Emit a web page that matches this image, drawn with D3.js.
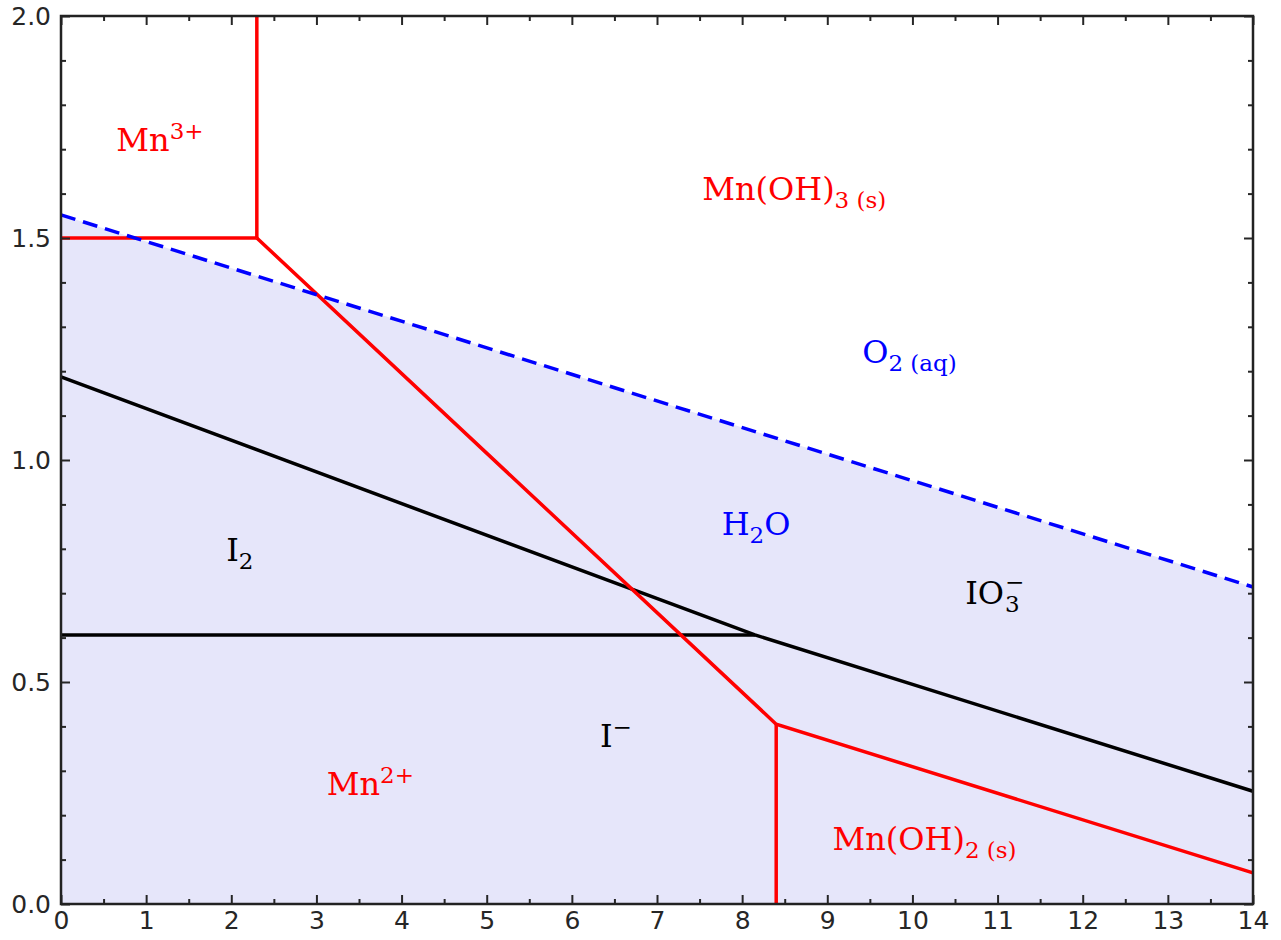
<!DOCTYPE html>
<html>
<head>
<meta charset="utf-8">
<script src="https://cdn.jsdelivr.net/npm/d3@7"></script>
<style>
  html, body { margin: 0; padding: 0; background: #fff; }
  svg { display: block; }
  .tick text { font-family: "DejaVu Sans", sans-serif; font-size: 25px; fill: #262626; }
  .lbl { font-family: "DejaVu Serif", serif; }
</style>
</head>
<body>
<svg id="chart" width="1281" height="940"></svg>
<script>
// ---- data (pH on x, E in volts on y) ----
const xMajorTicks = [0,1,2,3,4,5,6,7,8,9,10,11,12,13,14];
const xMinorTicks = [0.5,1.5,2.5,3.5,4.5,5.5,6.5,7.5,8.5,9.5,10.5,11.5,12.5,13.5];
const yMajorTicks = [0.0,0.5,1.0,1.5,2.0];
const yMinorTicks = [0.1,0.2,0.3,0.4,0.6,0.7,0.8,0.9,1.1,1.2,1.3,1.4,1.6,1.7,1.8,1.9];

// water stability (O2/H2O) upper boundary
const waterLine = [[0,1.552],[14,0.714]];
// iodine boundaries
const io3Line = [[0,1.187],[8.15,0.606],[14,0.254]];
const i2Line = [[0,0.606],[8.15,0.606]];
// manganese boundaries
const mn3Horiz = [[0,1.5],[2.3,1.5]];
const mn3Vert = [[2.3,2.0],[2.3,1.5]];
const mnMain = [[2.3,1.5],[8.4,0.405],[14,0.07]];
const mn2Vert = [[8.4,0.405],[8.4,0.0]];

// labels: parts: [text, kind] kind: n normal, sub, sup
const labels = [
  {x:0.65, y:1.697, color:"red",   parts:[["Mn","n"],["3+","sup"]]},
  {x:7.53, y:1.585, color:"red",   parts:[["Mn(OH)","n"],["3 (s)","sub"]]},
  {x:9.41, y:1.218, color:"blue",  parts:[["O","n"],["2 (aq)","sub"]]},
  {x:7.76, y:0.831, color:"blue",  parts:[["H","n"],["2","sub"],["O","n"]]},
  {x:1.94, y:0.772, color:"black", parts:[["I","n"],["2","sub"]]},
  {x:6.33, y:0.354, color:"black", parts:[["I","n"],["\u2212","sup"]]},
  {x:3.12, y:0.245, color:"red",   parts:[["Mn","n"],["2+","sup"]]},
  {x:9.06, y:0.122, color:"red",   parts:[["Mn(OH)","n"],["2 (s)","sub"]]}
];
const io3Label = {x:10.62, y:0.676, color:"black"};

// ---- layout ----
const svg = d3.select("#chart");
const margin = {left:61, top:16, right:28, bottom:36};
const W = 1281, H = 940;
const x = d3.scaleLinear().domain([0,14]).range([margin.left, W - margin.right]);
const y = d3.scaleLinear().domain([0,2]).range([H - margin.bottom, margin.top]);

const line = d3.line().x(d => x(d[0])).y(d => y(d[1]));

// fill below water line
const area = d3.area().x(d => x(d[0])).y0(y(0)).y1(d => y(d[1]));
svg.append("path").datum(waterLine).attr("d", area).attr("fill", "#e6e6fa");

// lines
function drawLine(data, color, dash) {
  svg.append("path").datum(data).attr("d", line)
    .attr("fill", "none").attr("stroke", color).attr("stroke-width", 3.5)
    .attr("stroke-linejoin", "miter")
    .attr("stroke-dasharray", dash || null);
}
drawLine(i2Line, "#000");
drawLine(io3Line, "#000");
drawLine(mn3Horiz, "#ff0000");
drawLine(mn3Vert, "#ff0000");
drawLine(mnMain, "#ff0000");
drawLine(mn2Vert, "#ff0000");
drawLine(waterLine, "#0000ff", "15,8");

// axes (ticks inside)
const tickCol = "#262626";
function styleAxis(g) {
  g.select(".domain").remove();
  g.selectAll(".tick line").attr("stroke", tickCol).attr("stroke-width", 2);
}
svg.append("g").attr("transform", `translate(0,${y(0)})`)
  .call(d3.axisBottom(x).tickValues(xMajorTicks).tickFormat(d3.format("d")).tickSize(-9).tickPadding(7))
  .call(styleAxis);
svg.append("g").attr("transform", `translate(0,${y(0)})`)
  .call(d3.axisBottom(x).tickValues(xMinorTicks).tickFormat("").tickSize(-5))
  .call(styleAxis);
svg.append("g").attr("transform", `translate(0,${y(2)})`)
  .call(d3.axisTop(x).tickValues(xMajorTicks).tickFormat("").tickSize(-9))
  .call(styleAxis);
svg.append("g").attr("transform", `translate(0,${y(2)})`)
  .call(d3.axisTop(x).tickValues(xMinorTicks).tickFormat("").tickSize(-5))
  .call(styleAxis);
svg.append("g").attr("transform", `translate(${x(0)},0)`)
  .call(d3.axisLeft(y).tickValues(yMajorTicks).tickFormat(d3.format(".1f")).tickSize(-9).tickPadding(10))
  .call(styleAxis);
svg.append("g").attr("transform", `translate(${x(0)},0)`)
  .call(d3.axisLeft(y).tickValues(yMinorTicks).tickFormat("").tickSize(-5))
  .call(styleAxis);
svg.append("g").attr("transform", `translate(${x(14)},0)`)
  .call(d3.axisRight(y).tickValues(yMajorTicks).tickFormat("").tickSize(-9))
  .call(styleAxis);
svg.append("g").attr("transform", `translate(${x(14)},0)`)
  .call(d3.axisRight(y).tickValues(yMinorTicks).tickFormat("").tickSize(-5))
  .call(styleAxis);

// frame
svg.append("rect").attr("x", x(0)).attr("y", y(2))
  .attr("width", x(14) - x(0)).attr("height", y(0) - y(2))
  .attr("fill", "none").attr("stroke", "#222").attr("stroke-width", 2.5);

// labels
const mainSize = 32, smallSize = 23;
labels.forEach(l => {
  const t = svg.append("text").attr("class", "lbl")
    .attr("x", x(l.x)).attr("y", y(l.y)).attr("fill", l.color)
    .attr("font-size", mainSize);
  let shift = 0;
  l.parts.forEach(p => {
    const target = p[1] === "sub" ? 8 : p[1] === "sup" ? -12 : 0;
    t.append("tspan").text(p[0])
      .attr("font-size", p[1] === "n" ? mainSize : smallSize)
      .attr("dy", target - shift);
    shift = target;
  });
});

// IO3- with stacked sub/superscript, as one text element
{
  const t = svg.append("text").attr("class", "lbl")
    .attr("x", x(io3Label.x)).attr("y", y(io3Label.y)).attr("fill", io3Label.color)
    .attr("font-size", mainSize);
  const base = t.append("tspan").text("IO");
  const w = base.node().getComputedTextLength();
  t.append("tspan").text("3").attr("font-size", smallSize).attr("dx", 1).attr("dy", 8);
  t.append("tspan").text("\u2212").attr("font-size", smallSize)
    .attr("x", x(io3Label.x) + w + 1).attr("dy", -22);
}
</script>
</body>
</html>
